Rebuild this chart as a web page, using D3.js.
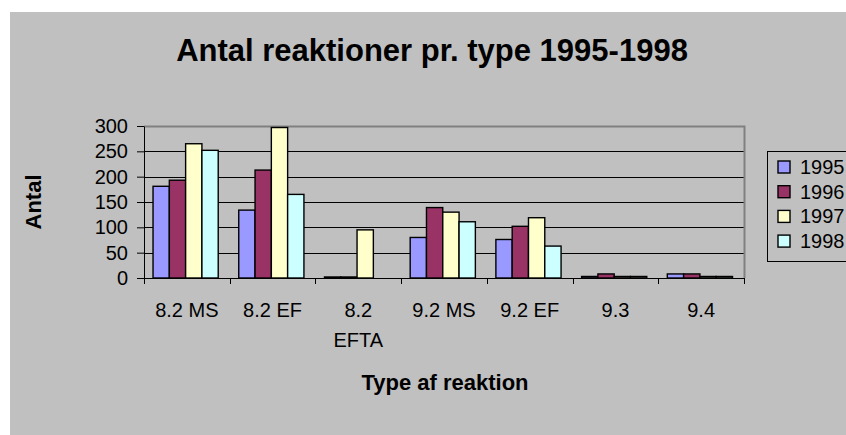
<!DOCTYPE html>
<meta charset="utf-8">
<style>
body { margin: 0; background: #fff; }
text { font-family: 'Liberation Sans', Arial, sans-serif; }
</style>
<body>
<div class="viz"></div>
<script src="https://d3js.org/d3.v7.min.js"></script>
<script>
// chart values
var categories = ["8.2 MS", "8.2 EF", "8.2 EFTA", "9.2 MS", "9.2 EF", "9.3", "9.4"];
var years = ["1995", "1996", "1997", "1998"];
var v1995 = [181, 134, 2, 80, 76, 3, 8];
var v1996 = [193, 213, 2, 139, 102, 8, 8];
var v1997 = [265, 297, 95, 130, 119, 3, 3];
var v1998 = [252, 165, 0, 111, 63, 3, 3];
var yTicks = [0, 50, 100, 150, 200, 250, 300];
var colors = ["#9999ff", "#993366", "#ffffcc", "#ccffff"];

var series = [v1995, v1996, v1997, v1998];
var data = categories.map(function(c, i) {
  return {cat: c, vals: years.map(function(y, j) { return {year: y, value: series[j][i], idx: j}; })};
});

var W = 846, H = 435;
var plot = {left: 144, right: 744, top: 126, bottom: 278};

var svg = d3.select(".viz").append("svg")
    .attr("width", W)
    .attr("height", H);

// chart area background
svg.append("rect")
    .attr("x", 10).attr("y", 12)
    .attr("width", W - 10).attr("height", H - 12)
    .attr("fill", "#c0c0c0");

var x0 = d3.scaleBand()
    .domain(categories)
    .range([plot.left, plot.right])
    .padding(0);

var x1 = d3.scaleBand()
    .domain(years)
    .range([0, x0.bandwidth()])
    .paddingInner(0)
    .paddingOuter(0.63)
    .align(0.44);

var y = d3.scaleLinear()
    .domain([0, 300])
    .range([plot.bottom, plot.top]);

// gridlines
svg.append("g")
  .selectAll("line")
  .data(yTicks.filter(function(d) { return d > 0 && d < 300; }))
  .enter().append("line")
    .attr("x1", plot.left).attr("x2", plot.right)
    .attr("y1", function(d) { return Math.round(y(d)) + 0.5; })
    .attr("y2", function(d) { return Math.round(y(d)) + 0.5; })
    .attr("stroke", "#000")
    .attr("stroke-width", 1);

// plot border top / right
svg.append("path")
    .attr("d", "M" + plot.left + "," + (plot.top + 0.5) + "H" + (plot.right + 0.5) + "V" + plot.bottom)
    .attr("fill", "none")
    .attr("stroke", "#808080")
    .attr("stroke-width", 2);

// bars
var groups = svg.selectAll(".grp")
    .data(data)
    .enter().append("g")
    .attr("class", "grp")
    .attr("transform", function(d) { return "translate(" + x0(d.cat) + ",0)"; });

groups.selectAll("rect")
    .data(function(d) { return d.vals; })
    .enter().append("rect")
    .filter(function(d) { return d.value > 0; })
    .attr("x", function(d) { return x1(d.year); })
    .attr("y", function(d) { return y(d.value); })
    .attr("width", x1.bandwidth())
    .attr("height", function(d) { return y(0) - y(d.value); })
    .attr("fill", function(d) { return colors[d.idx]; })
    .attr("stroke", "#000")
    .attr("stroke-width", 1.4);

// y axis
var yAxis = svg.append("g")
    .attr("transform", "translate(" + plot.left + ",0)")
    .call(d3.axisLeft(y).tickValues(yTicks).tickSize(7).tickSizeOuter(0).tickPadding(9));
yAxis.select(".domain").attr("stroke", "#000");
yAxis.selectAll("text").style("font-size", "20px").attr("fill", "#000")
    .style("font-family", "'Liberation Sans', Arial, sans-serif");

// x axis: ticks at category boundaries
var xAxis = svg.append("g");
xAxis.append("line")
    .attr("x1", plot.left).attr("x2", plot.right)
    .attr("y1", plot.bottom + 0.5).attr("y2", plot.bottom + 0.5)
    .attr("stroke", "#000");
var bounds = categories.map(function(c) { return x0(c); }).concat([plot.right]);
xAxis.selectAll(".xt")
    .data(bounds)
    .enter().append("line")
    .attr("class", "xt")
    .attr("x1", function(d) { return Math.round(d) + 0.5; })
    .attr("x2", function(d) { return Math.round(d) + 0.5; })
    .attr("y1", plot.bottom).attr("y2", plot.bottom + 6)
    .attr("stroke", "#000");

var xl = xAxis.selectAll(".xl")
    .data(categories)
    .enter().append("text")
    .attr("class", "xl")
    .attr("text-anchor", "middle")
    .attr("x", function(d) { return x0(d) + x0.bandwidth() / 2; })
    .attr("y", 317)
    .style("font-size", "20px");
xl.each(function(d) {
  var t = d3.select(this);
  var parts = d === "8.2 EFTA" ? ["8.2", "EFTA"] : [d];
  parts.forEach(function(p, i) {
    t.append("tspan")
      .attr("x", x0(d) + x0.bandwidth() / 2)
      .attr("dy", i === 0 ? 0 : 30)
      .text(p);
  });
});

// titles
svg.append("text")
    .attr("x", 432).attr("y", 61)
    .attr("text-anchor", "middle")
    .style("font-size", "31px")
    .style("font-weight", "bold")
    .text("Antal reaktioner pr. type 1995-1998");

svg.append("text")
    .attr("x", 445).attr("y", 390)
    .attr("text-anchor", "middle")
    .style("font-size", "22px")
    .style("font-weight", "bold")
    .text("Type af reaktion");

svg.append("text")
    .attr("transform", "translate(41,202) rotate(-90)")
    .attr("text-anchor", "middle")
    .style("font-size", "22px")
    .style("font-weight", "bold")
    .text("Antal");

// legend
var legend = svg.append("g");
legend.append("rect")
    .attr("x", 767.5).attr("y", 151.5)
    .attr("width", 100).attr("height", 110)
    .attr("fill", "#c0c0c0")
    .attr("stroke", "#000")
    .attr("stroke-width", 1);
var li = legend.selectAll(".li")
    .data(years)
    .enter().append("g")
    .attr("class", "li")
    .attr("transform", function(d, i) { return "translate(0," + (167 + i * 24.7) + ")"; });
li.append("rect")
    .attr("x", 778).attr("y", -6)
    .attr("width", 12).attr("height", 12)
    .attr("fill", function(d, i) { return colors[i]; })
    .attr("stroke", "#000")
    .attr("stroke-width", 1.4);
li.append("text")
    .attr("x", 800).attr("y", 7)
    .style("font-size", "20px")
    .text(function(d) { return d; });
</script>
</body>
